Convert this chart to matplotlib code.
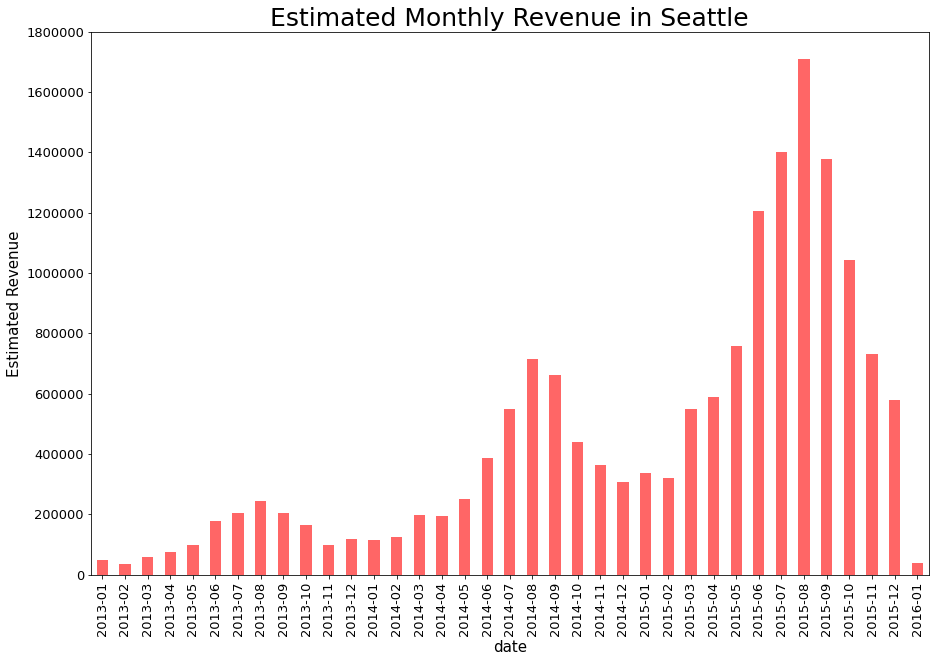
import matplotlib
matplotlib.use('Agg')
import matplotlib.pyplot as plt
import numpy as np

# 월별 추정 매출
months = ['2013-01','2013-02','2013-03','2013-04','2013-05','2013-06','2013-07','2013-08',
          '2013-09','2013-10','2013-11','2013-12','2014-01','2014-02','2014-03','2014-04',
          '2014-05','2014-06','2014-07','2014-08','2014-09','2014-10','2014-11','2014-12',
          '2015-01','2015-02','2015-03','2015-04','2015-05','2015-06','2015-07','2015-08',
          '2015-09','2015-10','2015-11','2015-12','2016-01']
revenue = [50000, 36000, 60000, 76000, 100000, 179000, 205000, 245000,
           205000, 166000, 100000, 120000, 116000, 126000, 199000, 196000,
           252000, 388000, 550000, 716000, 663000, 441000, 365000, 308000,
           338000, 322000, 550000, 590000, 759000, 1207000, 1402000, 1711000,
           1379000, 1044000, 733000, 580000, 40000]

fig = plt.figure(figsize=(938/72, 663/72), dpi=72)
ax = fig.add_subplot(111)
fig.subplots_adjust(left=0.097, right=0.990, top=0.952, bottom=0.133)

index = np.arange(len(months))
ax.bar(index, revenue, width=0.5, color='r', alpha=0.6)
ax.set_xticks(index)
ax.set_xticklabels(months, rotation=90, fontsize=13)
ax.set_xlim(-0.5, len(months)-0.5)
ax.set_ylim(0, 1800000)
ax.set_yticks(np.arange(0, 1800001, 200000))
ax.set_yticklabels([str(v) for v in range(0, 1800001, 200000)], fontsize=13)
ax.set_xlabel('date', fontsize=15)
ax.set_ylabel('Estimated Revenue', fontsize=15)
ax.set_title('Estimated Monthly Revenue in Seattle', fontsize=25)

fig.savefig('out.png', dpi=72)
